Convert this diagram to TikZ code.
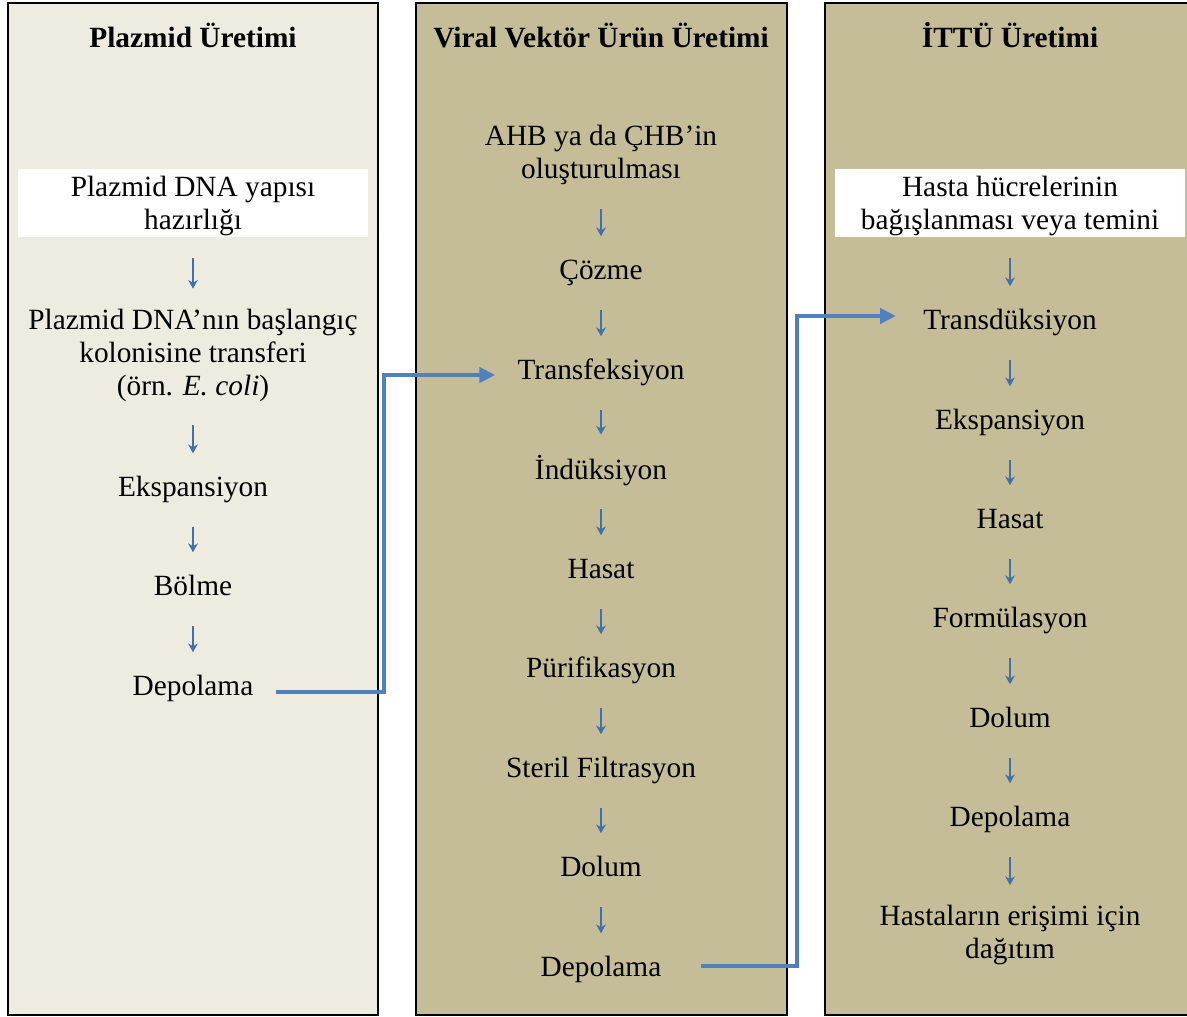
\documentclass[tikz,border=0pt]{standalone}
\usepackage{fontspec}
\setmainfont{Liberation Serif}
\usetikzlibrary{calc,positioning,arrows.meta}
\definecolor{plazmidbg}{HTML}{EEECE1}
\definecolor{uretimbg}{HTML}{C4BD97}
\definecolor{akisblue}{HTML}{4F81BD}
\definecolor{okblue}{HTML}{4470A8}
\tikzstyle{column} = [draw=black, line width=1.6pt]
\tikzstyle{flow}   = [line width=2.3pt, akisblue, -{Triangle[length=9pt,width=8.5pt]}]
\newcommand{\ustpay}{\rule{0pt}{16pt}}
\newcommand{\altpay}{\rule[-4.5pt]{0pt}{0pt}}

\begin{document}
\begin{tikzpicture}[x=0.02cm, y=-0.02cm, font=\fontsize{16.7}{18.7}\selectfont,
		asama/.style={inner sep=0pt, align=center, execute at begin node=\strut, execute at end node=\strut},
		baslik/.style={asama, font=\fontsize{16.7}{18.7}\selectfont\bfseries},
		kutu/.style={inner sep=0pt, align=center, fill=white, minimum width=7cm},
		ok/.style={okblue, line width=0.9pt, -{Stealth[length=5pt,width=5.5pt]}, shorten <=0.4cm, shorten >=0.4cm}]

	\fill[white] (0,0) rectangle (1187,1017);
	\useasboundingbox (0,0) rectangle (1187,1017);

	\draw[column, fill=plazmidbg] (8,3) rectangle (378,1015);
	\draw[column, fill=uretimbg] (416,3) rectangle (787,1015);
	\draw[column, fill=uretimbg] (825,3) rectangle (1197,1015);

	\node[baslik] (t1) at (193,40) {Plazmid Üretimi};
	\node[kutu] (p1) at (193,203) {\ustpay Plazmid DNA yapısı\\hazırlığı\altpay};
	\node[asama] (p2) at (193,357) {Plazmid DNA’nın başlangıç\\kolonisine transferi\\(örn. \textit{E. coli})};
	\node[asama] (p3) at (193,490) {Ekspansiyon};
	\node[asama] (p4) at (193,589) {Bölme};
	\node[asama] (p5) at (193,689) {Depolama};

	\node[baslik] (t2) at (601,40) {Viral Vektör Ürün Üretimi};
	\node[asama] (v1) at (601,157) {AHB ya da ÇHB’in\\oluşturulması};
	\node[asama] (v2) at (601,273) {Çözme};
	\node[asama] (v3) at (601,373) {Transfeksiyon};
	\node[asama] (v4) at (601,472) {İndüksiyon};
	\node[asama] (v5) at (601,572) {Hasat};
	\node[asama] (v6) at (601,671) {Pürifikasyon};
	\node[asama] (v7) at (601,771) {Steril Filtrasyon};
	\node[asama] (v8) at (601,870) {Dolum};
	\node[asama] (v9) at (601,970) {Depolama};

	\node[baslik] (t3) at (1010,40) {İTTÜ Üretimi};
	\node[kutu] (h1) at (1010,203) {\ustpay Hasta hücrelerinin\\bağışlanması veya temini\altpay};
	\node[asama] (h2) at (1010,323) {Transdüksiyon};
	\node[asama] (h3) at (1010,423) {Ekspansiyon};
	\node[asama] (h4) at (1010,522) {Hasat};
	\node[asama] (h5) at (1010,621) {Formülasyon};
	\node[asama] (h6) at (1010,721) {Dolum};
	\node[asama] (h7) at (1010,820) {Depolama};
	\node[asama] (h8) at (1010,937) {Hastaların erişimi için\\dağıtım};

	\foreach \a/\b in {p1/p2,p2/p3,p3/p4,p4/p5,v1/v2,v2/v3,v3/v4,v4/v5,v5/v6,v6/v7,v7/v8,v8/v9,h1/h2,h2/h3,h3/h4,h4/h5,h5/h6,h6/h7,h7/h8}
		\draw[ok] (\a) -- (\b);

	\draw[flow] ($(p5.east)+(22,3)$) -| ($(v3.west)+(-133,2)$) -- ($(v3.west)+(-22,2)$);
	\draw[flow] ($(v9.east)+(39,-4)$) -| ($(h2.west)+(-126,-7)$) -- ($(h2.west)+(-27,-7)$);
\end{tikzpicture}
\end{document}
